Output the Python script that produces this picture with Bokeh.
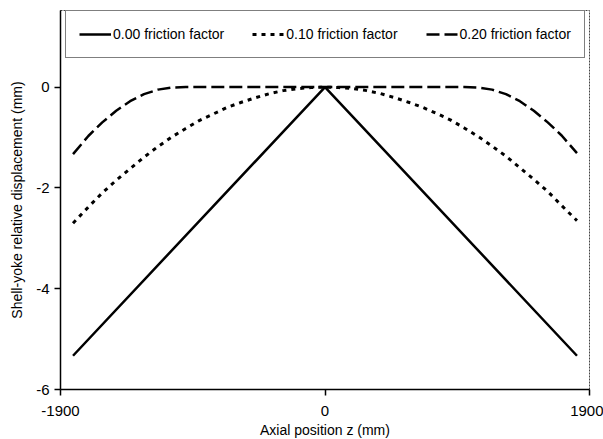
from bokeh.plotting import figure
from bokeh.models import Legend, LegendItem, FixedTicker, Range1d
from bokeh.embed import file_html
from bokeh.resources import INLINE

# Data
z_solid = [-1810, 0, 1810]
d_solid = [-5.33, 0.0, -5.33]

z_curve = [-1810, -1700, -1600, -1500, -1400, -1300, -1200, -1100, -1000, -900,
           -800, -700, -600, -500, -400, -300, -200, -100, 0,
           100, 200, 300, 400, 500, 600, 700, 800, 900, 1000,
           1100, 1200, 1300, 1400, 1500, 1600, 1700, 1810]
d_010 = [-2.70, -2.38, -2.10, -1.85, -1.62, -1.39, -1.18, -0.99, -0.82, -0.66,
         -0.53, -0.40, -0.30, -0.21, -0.13, -0.07, -0.03, -0.01, 0.0,
         -0.01, -0.03, -0.07, -0.13, -0.21, -0.30, -0.40, -0.52, -0.65, -0.81,
         -0.98, -1.17, -1.37, -1.60, -1.83, -2.07, -2.35, -2.65]
d_020 = [-1.33, -0.97, -0.70, -0.47, -0.28, -0.14, -0.05, -0.01, 0.0, 0.0,
         0.0, 0.0, 0.0, 0.0, 0.0, 0.0, 0.0, 0.0, 0.0,
         0.0, 0.0, 0.0, 0.0, 0.0, 0.0, 0.0, 0.0, 0.0, 0.0,
         -0.01, -0.05, -0.14, -0.28, -0.47, -0.70, -0.96, -1.31]

labels = ["0.00 friction factor", "0.10 friction factor", "0.20 friction factor"]
x_ticks = [-1900, 0, 1900]
y_ticks = [-6, -4, -2, 0]

FONT = "Liberation Sans"

p = figure(frame_width=529, frame_height=379, output_backend="svg", toolbar_location=None,
           x_range=Range1d(-1900, 1900), y_range=Range1d(-6, 1.52),
           min_border_left=60, min_border_right=14, min_border_top=10, min_border_bottom=50)
p.background_fill_color = "white"
p.border_fill_color = "white"
p.outline_line_color = "#444444"
p.outline_line_width = 1
p.outline_line_dash = "2 1"
p.grid.visible = False

r0 = p.line(z_solid, d_solid, line_color="black", line_width=2.5)
r1 = p.line(z_curve, d_010, line_color="black", line_width=3, line_dash="4 5")
r2 = p.line(z_curve, d_020, line_color="black", line_width=2.5, line_dash="13 5")

legend = Legend(items=[LegendItem(label=labels[0], renderers=[r0]),
                       LegendItem(label=labels[1], renderers=[r1]),
                       LegendItem(label=labels[2], renderers=[r2])],
                orientation="horizontal", location=(5, 331))
legend.label_text_font = FONT
legend.label_text_font_size = "14px"
legend.label_text_color = "black"
legend.glyph_width = 32
legend.glyph_height = 20
legend.label_height = 20
legend.label_standoff = 2
legend.spacing = 28
legend.padding = 13
legend.margin = 0
legend.border_line_color = "black"
legend.border_line_width = 1.5
legend.background_fill_alpha = 1
p.add_layout(legend, "center")

for ax in (p.xaxis[0], p.yaxis[0]):
    ax.axis_line_color = "black"
    ax.axis_line_width = 1.5
    ax.major_tick_line_color = "black"
    ax.major_tick_line_width = 1.5
    ax.major_tick_out = 6
    ax.major_tick_in = 0
    ax.minor_tick_line_color = None
    ax.major_label_text_font = FONT
    ax.major_label_text_font_size = "15px"
    ax.major_label_text_color = "black"
    ax.axis_label_text_font = FONT
    ax.axis_label_text_font_size = "14px"
    ax.axis_label_text_font_style = "normal"
    ax.axis_label_text_color = "black"

p.xaxis.ticker = FixedTicker(ticks=x_ticks)
p.yaxis.ticker = FixedTicker(ticks=y_ticks)
p.xaxis.major_label_overrides = {t: str(t) for t in x_ticks}
p.yaxis.major_label_overrides = {t: str(t) for t in y_ticks}
p.xaxis.major_label_standoff = 10
p.yaxis.major_label_standoff = 5
p.xaxis.axis_label = "Axial position z (mm)"
p.yaxis.axis_label = "Shell-yoke relative displacement (mm)"
p.xaxis.axis_label_standoff = 3
p.yaxis.axis_label_standoff = 8

open("out.html", "w").write(file_html(p, INLINE))
